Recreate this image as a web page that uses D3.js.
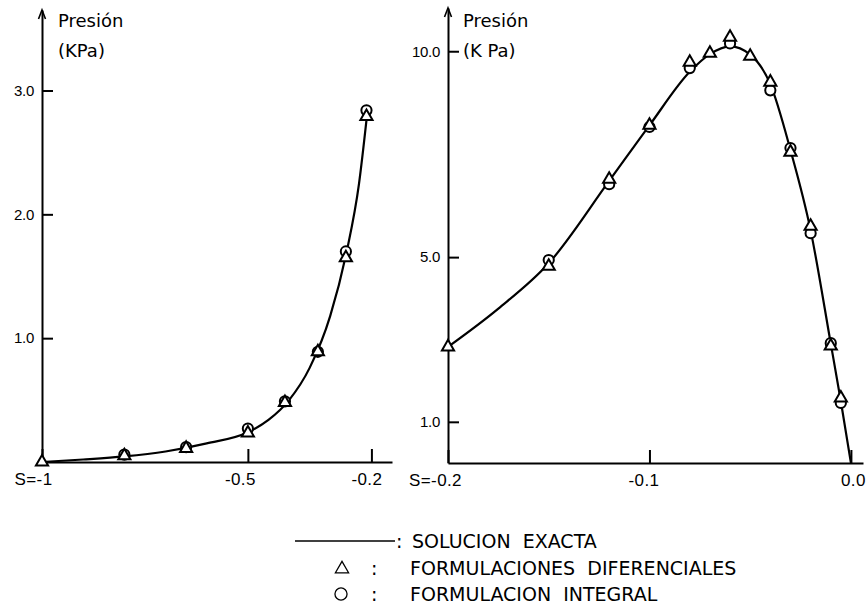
<!DOCTYPE html>
<html>
<head>
<meta charset="utf-8">
<script src="https://cdn.jsdelivr.net/npm/d3@7"></script>
<style>
  body { margin: 0; background: #fff; }
  svg { display: block; font-family: "DejaVu Sans", sans-serif; }
  .axis path, .axis line { stroke: #000; stroke-width: 2; }
  .axis text { fill: #000; }
</style>
</head>
<body>
<svg id="chart" width="867" height="613"></svg>
<script>
// left panel: S from -1 to -0.2, pressure in KPa
const leftS      = [-1, -0.8, -0.65, -0.5, -0.41, -0.33, -0.262, -0.212];
const leftDif    = [0, 0.05, 0.11, 0.235, 0.48, 0.89, 1.65, 2.79];
const leftInt    = [null, 0.06, 0.12, 0.27, 0.49, 0.89, 1.70, 2.84];
const leftCurveS = [-1, -0.9, -0.8, -0.7, -0.6, -0.5, -0.45, -0.4, -0.35, -0.3, -0.26, -0.23, -0.212];
const leftCurveP = [0.0, 0.02, 0.045, 0.085, 0.15, 0.24, 0.34, 0.5, 0.76, 1.18, 1.7, 2.25, 2.76];
const leftYTicks = [1, 2, 3];
const leftXTicks = [-1, -0.5, -0.2];

// right panel: S from -0.2 to 0
const rightS      = [-0.2, -0.15, -0.12, -0.1, -0.08, -0.07, -0.06, -0.05, -0.04, -0.03, -0.02, -0.01, -0.005];
const rightDif    = [2.82, 4.78, 6.89, 8.2, 9.73, 9.95, 10.34, 9.88, 9.25, 7.55, 5.75, 2.84, 1.58];
const rightInt    = [null, 4.93, 6.77, 8.16, 9.59, null, 10.19, null, 9.05, 7.65, 5.58, 2.91, 1.46];
const rightCurveS = [-0.2, -0.175, -0.15, -0.12, -0.1, -0.08, -0.07, -0.06, -0.05, -0.04, -0.03, -0.02, -0.01, -0.005, 0];
const rightCurveP = [2.82, 3.75, 4.85, 6.85, 8.2, 9.5, 9.93, 10.12, 9.92, 9.2, 7.6, 5.65, 2.9, 1.5, 0];
const rightYTicks = [1, 5, 10];
const rightXTicks = [-0.2, -0.1, 0];

const legendItems = ["SOLUCION  EXACTA", "FORMULACIONES  DIFERENCIALES", "FORMULACION  INTEGRAL"];

const svg = d3.select("#chart");

const panels = [
    { s: leftS, dif: leftDif, int: leftInt, cs: leftCurveS, cp: leftCurveP,
      x: d3.scaleLinear().domain([-1, -0.15]).range([42, 392]),
      y: d3.scaleLinear().domain([0, 3.65]).range([462, 10]),
      yTicks: leftYTicks, xTicks: leftXTicks, xFirst: "S=-1", xShift: [-9, -8, -5],
      unit: "(KPa)", titleX: 58 },
    { s: rightS, dif: rightDif, int: rightInt, cs: rightCurveS, cp: rightCurveP,
      x: d3.scaleLinear().domain([-0.2, 0.006]).range([448, 863]),
      y: d3.scaleLinear().domain([0, 11.05]).range([463, 8]),
      yTicks: rightYTicks, xTicks: rightXTicks, xFirst: "S=-0.2", xShift: [-13, -6, 2],
      unit: "(K Pa)", titleX: 463 }
];

const tri = d3.symbol().type(d3.symbolTriangle).size(64);
const circ = d3.symbol().type(d3.symbolCircle).size(82);

panels.forEach(p => {
    const g = svg.append("g");
    const base = p.y(0), x0 = p.x.range()[0];

    // y axis, ticks pointing inward
    const yAxis = d3.axisLeft(p.y).tickValues(p.yTicks).tickFormat(d => d.toFixed(1))
        .tickSize(-11).tickSizeOuter(0).tickPadding(8);
    g.append("g").attr("class", "axis").attr("transform", `translate(${x0},0)`).call(yAxis)
        .selectAll("text").style("font-size", "15px").style("letter-spacing", "-0.3px");

    // x axis
    const xAxis = d3.axisBottom(p.x).tickValues(p.xTicks)
        .tickFormat((d, i) => i === 0 ? p.xFirst : d.toFixed(1))
        .tickSize(-13).tickSizeOuter(0).tickPadding(11);
    g.append("g").attr("class", "axis").attr("transform", `translate(0,${base})`).call(xAxis)
        .selectAll("text").style("font-size", "17px").style("letter-spacing", "0.4px")
        .attr("dx", (d, i) => p.xShift[i]);

    // arrow head on y axis
    const top = p.y.range()[1];
    g.append("path")
        .attr("d", `M${x0 - 3.5},${top + 9}L${x0},${top}L${x0 + 3.5},${top + 9}`)
        .attr("fill", "none").attr("stroke", "#000").attr("stroke-width", 1.6);

    // axis title
    g.append("text").attr("x", p.titleX).attr("y", 27).style("font-size", "18px").text("Presión");
    g.append("text").attr("x", p.titleX).attr("y", 57).style("font-size", "18px")
        .style("white-space", "pre").text(p.unit);

    // exact solution
    const line = d3.line().x(d => p.x(d[0])).y(d => p.y(d[1])).curve(d3.curveMonotoneX);
    g.append("path").datum(p.cs.map((s, i) => [s, p.cp[i]]))
        .attr("d", line).attr("fill", "none").attr("stroke", "#000").attr("stroke-width", 2.2);

    // integral formulation (circles) then differential (triangles) on top
    g.selectAll(".circ").data(p.s.map((s, i) => [s, p.int[i]]).filter(d => d[1] !== null))
        .join("path").attr("class", "circ").attr("d", circ)
        .attr("transform", d => `translate(${p.x(d[0])},${p.y(d[1])})`)
        .attr("fill", "#fff").attr("stroke", "#000").attr("stroke-width", 2);
    g.selectAll(".tri").data(p.s.map((s, i) => [s, p.dif[i]]))
        .join("path").attr("class", "tri").attr("d", tri)
        .attr("transform", d => `translate(${p.x(d[0])},${p.y(d[1])})`)
        .attr("fill", "#fff").attr("stroke", "#000").attr("stroke-width", 2);
});

// legend
const leg = svg.append("g");
const rowY = [541, 568, 594];
leg.append("line").attr("x1", 295).attr("x2", 395).attr("y1", rowY[0]).attr("y2", rowY[0])
    .attr("stroke", "#000").attr("stroke-width", 1.6);
leg.append("path").attr("d", d3.symbol().type(d3.symbolTriangle).size(75))
    .attr("transform", `translate(342,${rowY[1] + 1})`)
    .attr("fill", "none").attr("stroke", "#000").attr("stroke-width", 1.3);
leg.append("path").attr("d", d3.symbol().type(d3.symbolCircle).size(115))
    .attr("transform", `translate(341,${rowY[2]})`)
    .attr("fill", "none").attr("stroke", "#000").attr("stroke-width", 1.3);

const colX = [396, 371, 371];
const textX = [412, 410, 410];
legendItems.forEach((t, i) => {
    leg.append("text").attr("x", colX[i]).attr("y", rowY[i] + 7).style("font-size", "19px").text(":");
    leg.append("text").attr("x", textX[i]).attr("y", rowY[i] + 7)
        .style("font-size", "19px").style("white-space", "pre").text(t);
});
</script>
</body>
</html>
